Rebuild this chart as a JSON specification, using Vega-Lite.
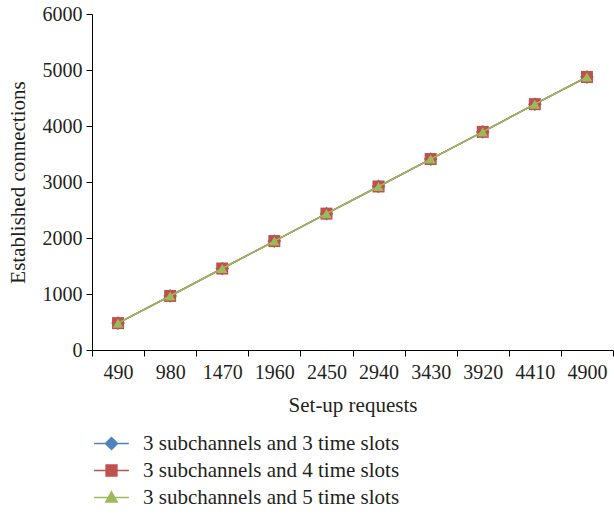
{
  "$schema": "https://vega.github.io/schema/vega-lite/v6.json",
  "autosize": "none",
  "width": 521,
  "height": 336,
  "padding": {"left": 92, "top": 14, "right": 1, "bottom": 164},
  "background": "white",
  "config": {
    "view": {"stroke": null},
    "font": "Liberation Serif",
    "axis": {
      "domainColor": "#000000",
      "tickColor": "#000000",
      "labelColor": "#231F20",
      "titleColor": "#231F20",
      "labelFont": "Liberation Serif",
      "titleFont": "Liberation Serif",
      "labelFontSize": 20,
      "titleFontSize": 21,
      "titleFontWeight": "normal",
      "tickSize": 6,
      "grid": false
    }
  },
  "data": {
    "values": [
      {"req": "490", "s": "3 subchannels and 3 time slots", "v": 480},
      {"req": "980", "s": "3 subchannels and 3 time slots", "v": 965},
      {"req": "1470", "s": "3 subchannels and 3 time slots", "v": 1455},
      {"req": "1960", "s": "3 subchannels and 3 time slots", "v": 1945},
      {"req": "2450", "s": "3 subchannels and 3 time slots", "v": 2435},
      {"req": "2940", "s": "3 subchannels and 3 time slots", "v": 2920},
      {"req": "3430", "s": "3 subchannels and 3 time slots", "v": 3410},
      {"req": "3920", "s": "3 subchannels and 3 time slots", "v": 3895},
      {"req": "4410", "s": "3 subchannels and 3 time slots", "v": 4390},
      {"req": "4900", "s": "3 subchannels and 3 time slots", "v": 4875},
      {"req": "490", "s": "3 subchannels and 4 time slots", "v": 480},
      {"req": "980", "s": "3 subchannels and 4 time slots", "v": 965},
      {"req": "1470", "s": "3 subchannels and 4 time slots", "v": 1455},
      {"req": "1960", "s": "3 subchannels and 4 time slots", "v": 1945},
      {"req": "2450", "s": "3 subchannels and 4 time slots", "v": 2435},
      {"req": "2940", "s": "3 subchannels and 4 time slots", "v": 2920},
      {"req": "3430", "s": "3 subchannels and 4 time slots", "v": 3410},
      {"req": "3920", "s": "3 subchannels and 4 time slots", "v": 3895},
      {"req": "4410", "s": "3 subchannels and 4 time slots", "v": 4390},
      {"req": "4900", "s": "3 subchannels and 4 time slots", "v": 4875},
      {"req": "490", "s": "3 subchannels and 5 time slots", "v": 480},
      {"req": "980", "s": "3 subchannels and 5 time slots", "v": 965},
      {"req": "1470", "s": "3 subchannels and 5 time slots", "v": 1455},
      {"req": "1960", "s": "3 subchannels and 5 time slots", "v": 1945},
      {"req": "2450", "s": "3 subchannels and 5 time slots", "v": 2435},
      {"req": "2940", "s": "3 subchannels and 5 time slots", "v": 2920},
      {"req": "3430", "s": "3 subchannels and 5 time slots", "v": 3410},
      {"req": "3920", "s": "3 subchannels and 5 time slots", "v": 3895},
      {"req": "4410", "s": "3 subchannels and 5 time slots", "v": 4390},
      {"req": "4900", "s": "3 subchannels and 5 time slots", "v": 4875}
    ]
  },
  "encoding": {
    "x": {
      "field": "req",
      "type": "ordinal",
      "sort": null,
      "scale": {"type": "band", "paddingInner": 0, "paddingOuter": 0},
      "axis": {"title": "Set-up requests", "labelAngle": 0, "tickBand": "extent", "labelPadding": 6, "titlePadding": 12}
    },
    "y": {
      "field": "v",
      "type": "quantitative",
      "scale": {"domain": [0, 6000], "nice": false},
      "axis": {"title": "Established connections", "format": "d", "values": [0, 1000, 2000, 3000, 4000, 5000, 6000], "labelPadding": 4, "titlePadding": 14}
    }
  },
  "layer": [
    {
      "transform": [{"filter": "datum.s === '3 subchannels and 3 time slots'"}],
      "mark": {"type": "line", "color": "#4F81BD", "strokeWidth": 1.5,
        "point": {"shape": "diamond", "filled": true, "size": 190, "color": "#4F81BD", "opacity": 1}}
    },
    {
      "transform": [{"filter": "datum.s === '3 subchannels and 4 time slots'"}],
      "mark": {"type": "line", "color": "#C0504D", "strokeWidth": 1.5,
        "point": {"shape": "square", "filled": true, "size": 144, "color": "#C0504D", "opacity": 1}}
    },
    {
      "transform": [{"filter": "datum.s === '3 subchannels and 5 time slots'"}],
      "mark": {"type": "line", "color": "#9BBB59", "strokeWidth": 1.5,
        "point": {"shape": "triangle-up", "filled": true, "size": 110, "color": "#9BBB59", "opacity": 1}}
    },
    {
      "mark": {"type": "point", "filled": true, "opacity": 0},
      "encoding": {
        "color": {
          "field": "s",
          "type": "nominal",
          "scale": {"range": ["#4F81BD", "#C0504D", "#9BBB59"]},
          "legend": {
            "title": null,
            "orient": "none",
            "legendX": 9,
            "legendY": 419,
            "direction": "vertical",
            "padding": 0,
            "symbolSize": 144,
            "symbolOpacity": 1,
            "symbolStrokeWidth": 1.5,
            "labelFont": "Liberation Serif",
            "labelFontSize": 21,
            "labelColor": "#231F20",
            "labelOffset": 21,
            "rowPadding": 5,
            "labelLimit": 400,
            "encode": {
              "symbols": {
                "update": {
                  "stroke": {"scale": "color", "field": "value"},
                  "fill": {"scale": "color", "field": "value"},
                  "opacity": {"value": 1},
                  "strokeWidth": {"value": 1.5}
                }
              }
            }
          }
        },
        "shape": {
          "field": "s",
          "type": "nominal",
          "scale": {"range": [
            "M-2.9,0H2.9M0,-1L1,0L0,1L-1,0Z",
            "M-2.9,0H2.9M-0.9,-0.9H0.9V0.9H-0.9Z",
            "M-2.9,0H2.9M0,-0.95L0.95,0.75H-0.95Z"
          ]}
        }
      }
    }
  ]
}
